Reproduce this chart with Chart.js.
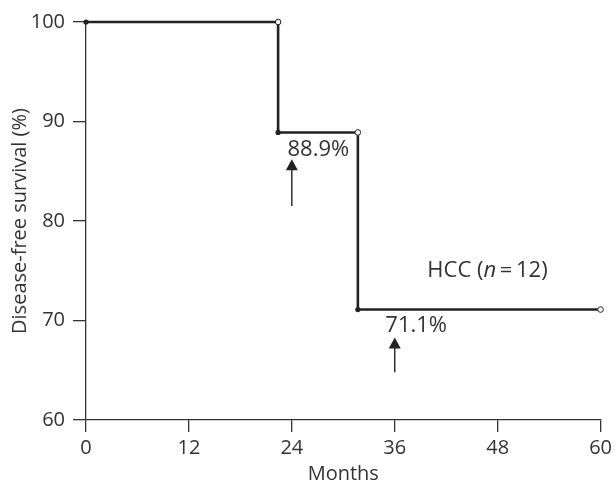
<!DOCTYPE html>
<html>
<head>
<meta charset="utf-8">
<script src="https://cdn.jsdelivr.net/npm/chart.js@4.4.1/dist/chart.umd.min.js"></script>
<style>
  html, body { margin: 0; padding: 0; background: #fff; }
  #wrap { width: 616px; height: 486px; }
</style>
</head>
<body>
<div id="wrap"><canvas id="myChart" width="616" height="486"></canvas></div>
<script>
// Kaplan-Meier step curve, HCC (n=12)
var months = [0, 22.4, 31.7, 60];
var survival = [100, 88.9, 71.1, 71.1];
var xTicks = [0, 12, 24, 36, 48, 60];
var yTicks = [60, 70, 80, 90, 100];

// arrows: x, tail y, tip y
var arrowX = [24, 36];
var arrowTail = [81.5, 64.8];
var arrowTip = [86.2, 68.3];
// labels: text, x (left), y (middle)
var labelText = ["88.9%", "71.1%"];
var labelX = [23.5, 34.9];
var labelY = [87.2, 69.5];

var FONT = "'Open Sans', sans-serif";

var curve = [];
for (var i = 0; i < months.length; ++i) curve.push({ x: months[i], y: survival[i] });
var filledPts = [];
var openPts = [];
for (var i = 0; i < months.length - 1; ++i) {
  filledPts.push({ x: months[i], y: survival[i] });
  openPts.push({ x: months[i + 1], y: survival[i] });
}

var annotations = {
  id: "annotations",
  afterDatasetsDraw: function (chart) {
    var ctx = chart.ctx;
    var xs = chart.scales.x;
    var ys = chart.scales.y;
    ctx.save();
    ctx.strokeStyle = "#222";
    ctx.fillStyle = "#222";
    ctx.lineWidth = 1.4;
    for (var i = 0; i < arrowX.length; ++i) {
      var px = xs.getPixelForValue(arrowX[i]);
      var y0 = ys.getPixelForValue(arrowTail[i]);
      var y1 = ys.getPixelForValue(arrowTip[i]);
      ctx.beginPath();
      ctx.moveTo(px, y0);
      ctx.lineTo(px, y1 + 9);
      ctx.stroke();
      ctx.beginPath();
      ctx.moveTo(px, y1);
      ctx.lineTo(px - 6, y1 + 11);
      ctx.lineTo(px + 6, y1 + 11);
      ctx.closePath();
      ctx.fill();
    }
    ctx.font = "22px " + FONT;
    ctx.textBaseline = "middle";
    ctx.textAlign = "left";
    ctx.fillStyle = "#333";
    for (var i = 0; i < labelText.length; ++i) {
      ctx.fillText(labelText[i], xs.getPixelForValue(labelX[i]), ys.getPixelForValue(labelY[i]));
    }
    // label with italic n
    var lx = xs.getPixelForValue(39.8);
    var ly = ys.getPixelForValue(75.0);
    var parts = [["HCC (", ""], ["n", "italic "], ["\u2009=\u200912)", ""]];
    for (var j = 0; j < parts.length; ++j) {
      ctx.font = parts[j][1] + "22px " + FONT;
      ctx.fillText(parts[j][0], lx, ly);
      lx += ctx.measureText(parts[j][0]).width;
    }
    ctx.restore();
  },
};

var ctx = document.getElementById("myChart").getContext("2d");
new Chart(ctx, {
  type: "scatter",
  data: {
    datasets: [
      {
        type: "line",
        data: curve,
        stepped: "before",
        borderColor: "#222",
        borderWidth: 2.6,
        pointRadius: 0,
        fill: false,
        clip: false,
        order: 3,
      },
      {
        data: filledPts,
        pointRadius: 2.6,
        pointBackgroundColor: "#222",
        pointBorderColor: "#222",
        pointBorderWidth: 0,
        clip: false,
        order: 1,
      },
      {
        data: openPts,
        pointRadius: 2.8,
        pointBackgroundColor: "#fff",
        pointBorderColor: "#222",
        pointBorderWidth: 1,
        clip: false,
        order: 2,
      },
    ],
  },
  plugins: [annotations],
  options: {
    responsive: false,
    animation: false,
    events: [],
    layout: { padding: { top: 22, right: 14, left: 0, bottom: 0 } },
    plugins: { legend: { display: false }, tooltip: { enabled: false } },
    scales: {
      x: {
        type: "linear",
        min: 0,
        max: 60,
        afterFit: function (s) { s.height = 66; },
        afterBuildTicks: function (s) { s.ticks = xTicks.map(function (v) { return { value: v }; }); },
        border: { color: "#333", width: 1.3 },
        grid: { drawOnChartArea: false, tickLength: 12, color: "#333", lineWidth: 1.3 },
        ticks: { color: "#333", padding: 4, font: { family: FONT, size: 20 }, maxRotation: 0 },
        title: { display: true, text: "Months", color: "#333", padding: { top: 3, bottom: 0 }, font: { family: FONT, size: 20 } },
      },
      y: {
        type: "linear",
        min: 60,
        max: 100,
        afterFit: function (s) { s.width = 86; },
        afterBuildTicks: function (s) { s.ticks = yTicks.map(function (v) { return { value: v }; }); },
        border: { color: "#333", width: 1.3 },
        grid: { drawOnChartArea: false, tickLength: 13, color: "#333", lineWidth: 1.3 },
        ticks: { color: "#333", padding: 8, font: { family: FONT, size: 20 } },
        title: { display: true, text: "Disease-free survival (%)", color: "#333", padding: { top: 8, bottom: 0 }, font: { family: FONT, size: 20 } },
      },
    },
  },
});
</script>
</body>
</html>
